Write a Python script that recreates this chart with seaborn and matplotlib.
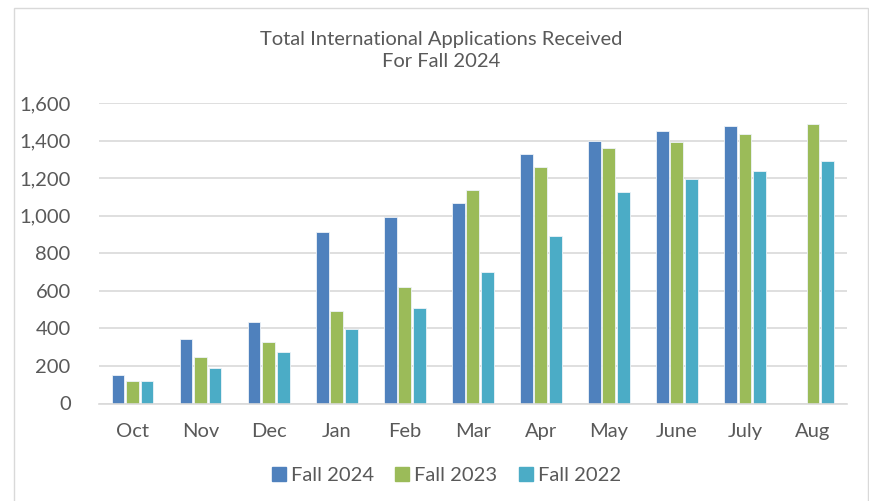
import pandas as pd
import numpy as np
import matplotlib
matplotlib.use("Agg")
import matplotlib.pyplot as plt
import seaborn as sns
from matplotlib.patches import Rectangle
from matplotlib.ticker import FuncFormatter

months = ["Oct", "Nov", "Dec", "Jan", "Feb", "Mar", "Apr", "May", "June", "July", "Aug"]
fall_2024 = [151, 343, 432, 913, 993, 1068, 1329, 1398, 1452, 1480, np.nan]
fall_2023 = [119, 250, 325, 494, 620, 1139, 1260, 1361, 1395, 1437, 1489]
fall_2022 = [119, 190, 275, 398, 508, 702, 892, 1126, 1196, 1238, 1292]
series = ["Fall 2024", "Fall 2023", "Fall 2022"]
colors = ["#4F81BD", "#9BBB59", "#4BACC6"]

df = pd.DataFrame({
    "month": months * 3,
    "term": [s for s in series for _ in months],
    "apps": fall_2024 + fall_2023 + fall_2022,
})

sns.set_style("white")
plt.rcParams["font.family"] = ["Lato", "DejaVu Sans"]
text_col = "#595959"

fig = plt.figure(figsize=(8.69, 5.01), dpi=100)
ax = fig.add_axes([98.5 / 869, 1 - 403.5 / 501, (847 - 98.5) / 869, (403.5 - 103) / 501])

sns.barplot(data=df, x="month", y="apps", hue="term", order=months,
            hue_order=series, palette=colors, saturation=1, width=0.64, gap=0.12,
            edgecolor="#eef3f8", linewidth=0.6, legend=False, ax=ax)

ax.set_ylim(0, 1600)
ax.set_xlim(-0.5, len(months) - 0.5)
ax.set_yticks(range(0, 1601, 200))
ax.yaxis.set_major_formatter(FuncFormatter(lambda v, p: f"{int(v):,}"))
ax.grid(axis="y", color="#d9d9d9", linewidth=1.2)
ax.set_axisbelow(True)
for s in ["top", "right", "left"]:
    ax.spines[s].set_visible(False)
ax.spines["bottom"].set_color("#d9d9d9")
ax.spines["bottom"].set_linewidth(1.2)
ax.tick_params(axis="both", length=0, labelsize=14.5, colors=text_col)
ax.tick_params(axis="x", pad=14)
ax.tick_params(axis="y", pad=20)
ax.set_xlabel("")
ax.set_ylabel("")

fig.text(0.508, 0.9, "Total International Applications Received\nFor Fall 2024",
         ha="center", va="center", fontsize=14.5, color=text_col, linespacing=1.35)

handles = [plt.Line2D([], [], marker="s", linestyle="", markersize=10,
                      markerfacecolor=c, markeredgecolor=c) for c in colors]
fig.legend(handles, series, loc="center", bbox_to_anchor=(0.512, 0.05), ncol=3,
           frameon=False, fontsize=14.5, labelcolor=text_col, handletextpad=0.1,
           columnspacing=0.9, handlelength=1.0)

fig.patches.append(Rectangle((14 / 869, -0.02), (867.5 - 14) / 869, 1.02 - 8 / 501,
                             transform=fig.transFigure, fill=False,
                             edgecolor="#d9d9d9", linewidth=1.0))

fig.savefig("out.png", dpi=100)
